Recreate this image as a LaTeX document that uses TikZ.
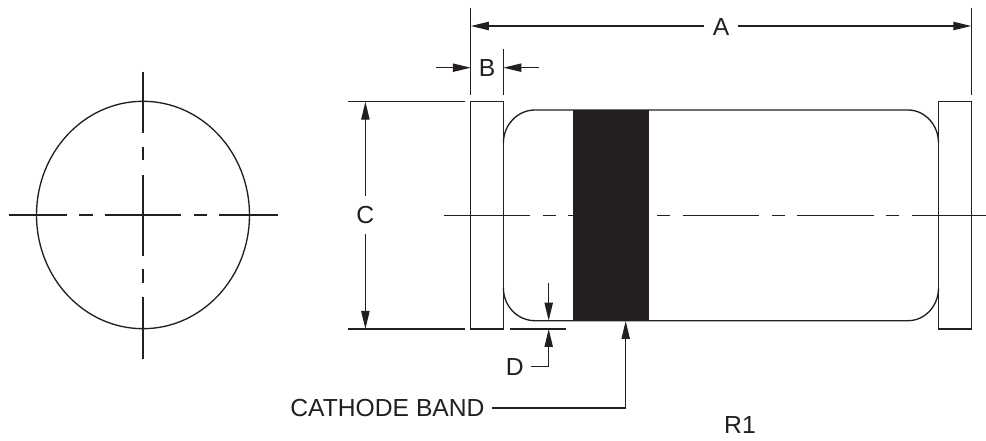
\documentclass[tikz,border=0pt]{standalone}
\usepackage{fontspec}
\setmainfont{Liberation Sans}
\usetikzlibrary{arrows.meta}
\definecolor{ink}{HTML}{231F20}
\tikzset{
  x=0.75pt,y=-0.75pt,
  ln/.style={draw=ink,line width=1pt},
  dim/.style={ln,-{Triangle[length=13.5pt,width=6.2pt,color=ink]}},
  lbl/.style={inner sep=0pt,text=ink,font=\fontsize{18.5pt}{20pt}\selectfont},
  band/.style={fill=ink,draw=none}
}
\begin{document}
\begin{tikzpicture}
\useasboundingbox (0,0) rectangle (986,441);
\fill[white] (0,0) rectangle (986,441);
% end view
\draw[ln] (143,215) ellipse [x radius=106.5,y radius=113.7];
\draw[ln] (9,215)--(67,215) (79,215)--(92.5,215) (105,215)--(181,215) (194,215)--(207,215) (219,215)--(278,215);
\draw[ln] (143,72)--(143,133) (143,147)--(143,160.5) (143,175)--(143,255.7) (143,269)--(143,282.7) (143,297)--(143,358.7);
% body
\draw[ln] (503.4,143) .. controls (503.4,124.8) and (517.6,110) .. (535,110) -- (908,110)
  .. controls (924.8,110) and (938.5,124.8) .. (938.5,143);
\draw[ln] (503.4,288) .. controls (503.4,306.2) and (517.6,320.7) .. (535,320.7) -- (908,320.7)
  .. controls (924.8,320.7) and (938.5,306.2) .. (938.5,288);
\path[band] (572.7,110) rectangle (649,321);
% caps
\draw[ln] (470.8,101.7) rectangle (503.4,329);
\draw[ln] (938.5,101.7) rectangle (971.3,329);
% centre line
\draw[ln] (443.7,215.3)--(530,215.3) (543,215.3)--(556,215.3) (568,215.3)--(572.7,215.3)
  (657,215.3)--(670,215.3) (683,215.3)--(759,215.3) (772,215.3)--(785,215.3)
  (797,215.3)--(874,215.3) (886,215.3)--(899,215.3) (912,215.3)--(986,215.3);
% extension lines
\draw[ln] (470.8,8)--(470.8,95) (503.4,49)--(503.4,95) (971.3,8)--(971.3,95);
\draw[ln] (348,101.7)--(465,101.7) (348,329)--(465,329);
\draw[ln] (540,320.7)--(572.7,320.7) (510,329)--(566,329);
% labels
\node[lbl] (lA) at (721,27) {A};
\node[lbl] (lB) at (487,67.7) {B};
\node[lbl] (lC) at (365.4,215.5) {C};
\node[lbl] (lD) at (514.7,366.7) {D};
\node[lbl] (lK) at (387.5,408) {CATHODE BAND};
\node[lbl] (lR) at (740,425.5) {R1};
% anchors for dimension lines
\coordinate (aL) at (470.8,26);
\coordinate (aR) at (971.3,26);
\coordinate (aLt) at (704,26);
\coordinate (aRt) at (738,26);
\coordinate (bLs) at (436,67.7);
\coordinate (bL) at (470.8,67.7);
\coordinate (bRs) at (538.5,67.7);
\coordinate (bR) at (503.4,67.7);
\coordinate (cT) at (365.4,101.7);
\coordinate (cTs) at (365.4,196);
\coordinate (cB) at (365.4,329);
\coordinate (cBs) at (365.4,234);
\coordinate (dTs) at (548.7,283);
\coordinate (dT) at (548.7,320.7);
\coordinate (dB) at (548.7,329);
\coordinate (dBc) at (548.7,366.7);
\coordinate (dBs) at (531,366.7);
\coordinate (kS) at (492,408);
\coordinate (kC) at (625.7,408);
\coordinate (kT) at (625.7,321);
% dimension arrows
\draw[dim] (aLt)--(aL);
\draw[dim] (aRt)--(aR);
\draw[dim] (bLs)--(bL);
\draw[dim] (bRs)--(bR);
\draw[dim] (cTs)--(cT);
\draw[dim] (cBs)--(cB);
\draw[dim] (dTs)--(dT);
\draw[dim] (dBs)--(dBc)--(dB);
\draw[dim] (kS)--(kC)--(kT);
\end{tikzpicture}
\end{document}
